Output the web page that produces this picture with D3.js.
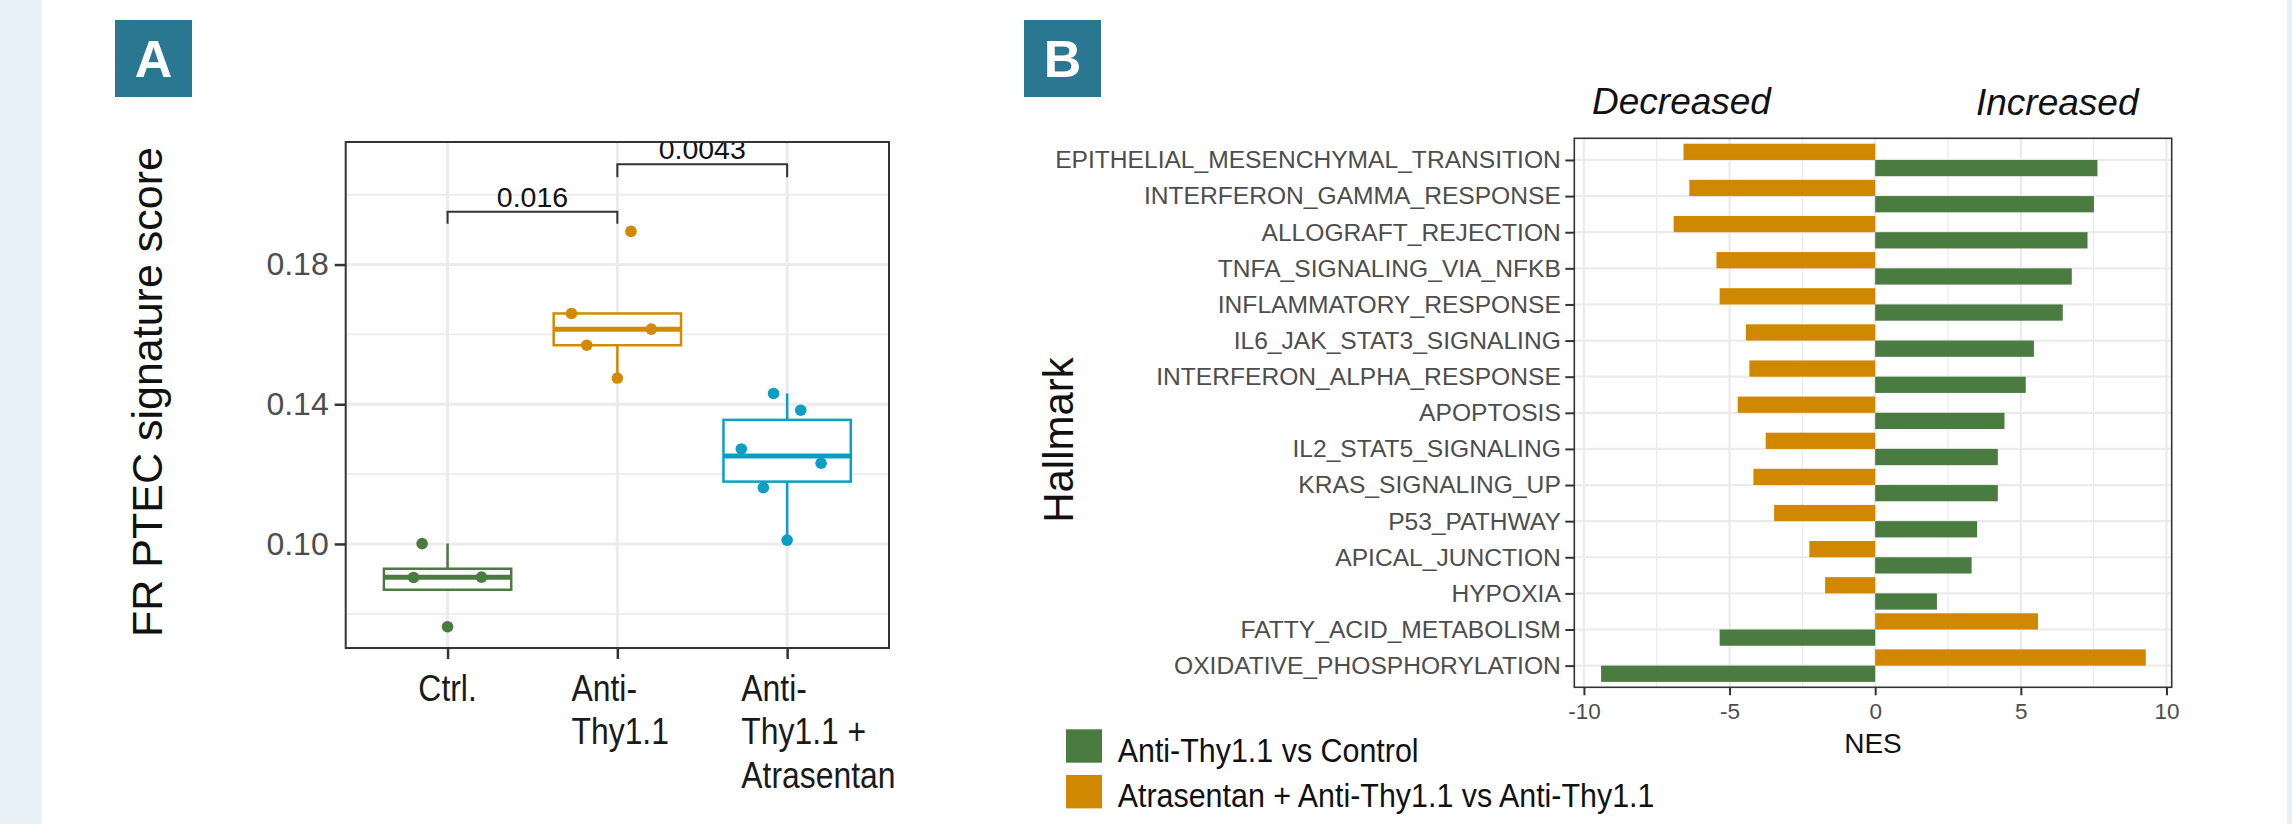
<!DOCTYPE html>
<html>
<head>
<meta charset="utf-8">
<script src="https://cdn.jsdelivr.net/npm/d3@7"></script>
<style>
html, body { margin: 0; padding: 0; background: #fff; }
svg { display: block; }
</style>
</head>
<body>
<svg id="fig" width="2292" height="824"></svg>
<script>
// ---- panel A : FR PTEC signature score per group ----
var groups = ["Ctrl.", "Anti-Thy1.1", "Anti-Thy1.1 + Atrasentan"];
var groupLabels = [["Ctrl."], ["Anti-", "Thy1.1"], ["Anti-", "Thy1.1 +", "Atrasentan"]];
var groupColors = ["#4a7c3f", "#d38a00", "#0b9fc3"];
var scoreCtrl = [0.1001, 0.0904, 0.0905, 0.0763];
var scoreAnti = [0.1660, 0.1569, 0.1615, 0.1475, 0.1895];
var scoreAtra = [0.1431, 0.1383, 0.1272, 0.1231, 0.1161, 0.1011];
// horizontal jitter of each dot, in category steps
var jitterCtrl = [-0.15, -0.20, 0.20, 0];
var jitterAnti = [-0.27, -0.18, 0.20, 0, 0.08];
var jitterAtra = [-0.08, 0.08, -0.27, 0.20, -0.14, 0];
var yTicksA = [0.10, 0.14, 0.18];
var yMinorA = [0.08, 0.12, 0.16, 0.20];
var pLabels = ["0.016", "0.0043"];
var pPairs = [[0, 1], [1, 2]];
var pHeights = [0.1951, 0.2087];
var pTips = [0.1917, 0.2050];

// ---- panel B : hallmark NES ----
var hallmarks = ["EPITHELIAL_MESENCHYMAL_TRANSITION", "INTERFERON_GAMMA_RESPONSE", "ALLOGRAFT_REJECTION",
	"TNFA_SIGNALING_VIA_NFKB", "INFLAMMATORY_RESPONSE", "IL6_JAK_STAT3_SIGNALING", "INTERFERON_ALPHA_RESPONSE",
	"APOPTOSIS", "IL2_STAT5_SIGNALING", "KRAS_SIGNALING_UP", "P53_PATHWAY", "APICAL_JUNCTION", "HYPOXIA",
	"FATTY_ACID_METABOLISM", "OXIDATIVE_PHOSPHORYLATION"];
var nesAntiThy = [7.63, 7.51, 7.29, 6.75, 6.44, 5.45, 5.17, 4.44, 4.21, 4.21, 3.50, 3.31, 2.12, -5.34, -9.41];
var nesAtrasentan = [-6.58, -6.38, -6.92, -5.45, -5.34, -4.44, -4.32, -4.72, -3.76, -4.18, -3.47, -2.26, -1.72, 5.59, 9.29];
var seriesNames = ["Anti-Thy1.1 vs Control", "Atrasentan + Anti-Thy1.1 vs Anti-Thy1.1"];
var seriesColors = ["#4a7c41", "#d08800"];
var xTicksB = [-10, -5, 0, 5, 10];
var xMinorB = [-7.5, -2.5, 2.5, 7.5];

var FONT = "'Liberation Sans', Arial, Helvetica, sans-serif";
var svg = d3.select("#fig").attr("font-family", FONT);

// page background and side strips
svg.append("rect").attr("width", 2292).attr("height", 824).attr("fill", "#fff");
svg.append("rect").attr("x", 0).attr("width", 41.5).attr("height", 824).attr("fill", "#e7eff7");
svg.append("rect").attr("x", 2287).attr("width", 5).attr("height", 824).attr("fill", "#e7eff7");

function panelTag(x, letter){
	svg.append("rect").attr("x", x).attr("y", 20).attr("width", 77).attr("height", 77).attr("fill", "#2a7791");
	svg.append("text").attr("x", x + 38.5).attr("y", 77).attr("text-anchor", "middle")
		.attr("font-size", 52).attr("font-weight", "bold").attr("fill", "#fff").text(letter);
}
panelTag(115, "A");
panelTag(1024, "B");

function squeezedText(parent, x, y, str, size, sx, anchor){
	return parent.append("text")
		.attr("transform", "translate(" + x + "," + y + ") scale(" + sx + ",1)")
		.attr("text-anchor", anchor || "start")
		.attr("font-size", size)
		.text(str);
}

// =========== panel A ===========
var A = {left: 345.7, right: 889, top: 142, bottom: 648};
var yA = d3.scaleLinear().domain([0.0702, 0.2151]).range([A.bottom, A.top]);
var xA = d3.scalePoint().domain(groups).range([A.left, A.right]).padding(0.6);
var stepA = xA.step();

svg.append("clipPath").attr("id", "clipA").append("rect")
	.attr("x", A.left).attr("y", A.top).attr("width", A.right - A.left).attr("height", A.bottom - A.top);

var gA = svg.append("g").attr("clip-path", "url(#clipA)");
gA.append("rect").attr("x", A.left).attr("y", A.top).attr("width", A.right - A.left).attr("height", A.bottom - A.top).attr("fill", "#fff");
gA.selectAll(".minor").data(yMinorA).enter().append("line")
	.attr("x1", A.left).attr("x2", A.right).attr("y1", yA).attr("y2", yA)
	.attr("stroke", "#ebebeb").attr("stroke-width", 1.8);
gA.selectAll(".major").data(yTicksA).enter().append("line")
	.attr("x1", A.left).attr("x2", A.right).attr("y1", yA).attr("y2", yA)
	.attr("stroke", "#ebebeb").attr("stroke-width", 3);
gA.selectAll(".vmajor").data(groups).enter().append("line")
	.attr("x1", xA).attr("x2", xA).attr("y1", A.top).attr("y2", A.bottom)
	.attr("stroke", "#ebebeb").attr("stroke-width", 3);

function boxStats(vals){
	var s = vals.slice().sort(d3.ascending);
	var q1 = d3.quantile(s, 0.25), med = d3.quantile(s, 0.5), q3 = d3.quantile(s, 0.75);
	var iqr = q3 - q1;
	var lo = d3.min(s.filter(function(v){ return v >= q1 - 1.5 * iqr; }));
	var hi = d3.max(s.filter(function(v){ return v <= q3 + 1.5 * iqr; }));
	return {q1: q1, med: med, q3: q3, lo: lo, hi: hi};
}

var allScores = [scoreCtrl, scoreAnti, scoreAtra];
var allJitter = [jitterCtrl, jitterAnti, jitterAtra];

allScores.forEach(function(vals, i){
	var st = boxStats(vals), cx = xA(groups[i]), col = groupColors[i], hw = 0.375 * stepA;
	if (st.hi > st.q3) gA.append("line").attr("x1", cx).attr("x2", cx).attr("y1", yA(st.q3)).attr("y2", yA(st.hi)).attr("stroke", col).attr("stroke-width", 2.5);
	if (st.lo < st.q1) gA.append("line").attr("x1", cx).attr("x2", cx).attr("y1", yA(st.q1)).attr("y2", yA(st.lo)).attr("stroke", col).attr("stroke-width", 2.5);
	gA.append("rect").attr("x", cx - hw).attr("width", 2 * hw)
		.attr("y", yA(st.q3)).attr("height", yA(st.q1) - yA(st.q3))
		.attr("fill", "#fff").attr("stroke", col).attr("stroke-width", 2.5);
	gA.append("line").attr("x1", cx - hw).attr("x2", cx + hw).attr("y1", yA(st.med)).attr("y2", yA(st.med))
		.attr("stroke", col).attr("stroke-width", 5);
	gA.selectAll(null).data(vals).enter().append("circle")
		.attr("cx", function(d, j){ return cx + allJitter[i][j] * stepA; })
		.attr("cy", function(d){ return yA(d); })
		.attr("r", 5.8).attr("fill", col);
});

// significance brackets
pLabels.forEach(function(lab, i){
	var x1 = xA(groups[pPairs[i][0]]), x2 = xA(groups[pPairs[i][1]]);
	var yb = yA(pHeights[i]), yt = yA(pTips[i]);
	gA.append("path").attr("d", "M" + x1 + "," + yt + "V" + yb + "H" + x2 + "V" + yt)
		.attr("fill", "none").attr("stroke", "#333").attr("stroke-width", 2);
	gA.append("text").attr("x", (x1 + x2) / 2).attr("y", yb - 5).attr("text-anchor", "middle")
		.attr("font-size", 28.5).attr("fill", "#111").text(lab);
});

svg.append("rect").attr("x", A.left).attr("y", A.top).attr("width", A.right - A.left).attr("height", A.bottom - A.top)
	.attr("fill", "none").attr("stroke", "#333").attr("stroke-width", 2);

var axA = svg.append("g").attr("transform", "translate(" + A.left + ",0)")
	.call(d3.axisLeft(yA).tickValues(yTicksA).tickFormat(d3.format(".2f")).tickSize(11).tickPadding(6));
axA.attr("font-family", FONT).attr("font-size", 32);
axA.select(".domain").remove();
axA.selectAll("line").attr("stroke", "#333").attr("stroke-width", 2.5);
axA.selectAll("text").attr("fill", "#4d4d4d");

var axAx = svg.append("g").attr("transform", "translate(0," + A.bottom + ")")
	.call(d3.axisBottom(xA).tickSize(11).tickFormat(""));
axAx.select(".domain").remove();
axAx.selectAll("line").attr("stroke", "#333").attr("stroke-width", 2.5);

groupLabels.forEach(function(lines, i){
	var multi = lines.length > 1;
	var x0 = xA(groups[i]) + (multi ? -0.27 * stepA : 0);
	lines.forEach(function(t, k){
		squeezedText(svg, x0, 701 + k * 43.3, t, 37.5, 0.85, multi ? "start" : "middle").attr("fill", "#1a1a1a");
	});
});

svg.append("text").attr("transform", "translate(161.5,392) rotate(-90)").attr("text-anchor", "middle")
	.attr("font-size", 43).attr("fill", "#111").text("FR PTEC signature score");

// =========== panel B ===========
var B = {left: 1574.3, right: 2171.7, top: 138.3, bottom: 687.3};
var xB = d3.scaleLinear().domain([-10.33, 10.18]).range([B.left, B.right]);
var yB = d3.scalePoint().domain(hallmarks).range([B.top, B.bottom]).padding(0.6);
var barH = 0.45 * yB.step();

var gB = svg.append("g");
gB.selectAll(".vminor").data(xMinorB).enter().append("line")
	.attr("x1", xB).attr("x2", xB).attr("y1", B.top).attr("y2", B.bottom)
	.attr("stroke", "#ebebeb").attr("stroke-width", 1.3);
gB.selectAll(".vmajor").data(xTicksB).enter().append("line")
	.attr("x1", xB).attr("x2", xB).attr("y1", B.top).attr("y2", B.bottom)
	.attr("stroke", "#ebebeb").attr("stroke-width", 2.2);
gB.selectAll(".hmajor").data(hallmarks).enter().append("line")
	.attr("x1", B.left).attr("x2", B.right).attr("y1", yB).attr("y2", yB)
	.attr("stroke", "#ebebeb").attr("stroke-width", 2.2);

// orange (Atrasentan) sits above the category line, green (Anti-Thy1.1) below
gB.selectAll(".barO").data(nesAtrasentan).enter().append("rect")
	.attr("x", function(d){ return xB(Math.min(0, d)); })
	.attr("width", function(d){ return Math.abs(xB(d) - xB(0)); })
	.attr("y", function(d, i){ return yB(hallmarks[i]) - barH; })
	.attr("height", barH).attr("fill", seriesColors[1]);
gB.selectAll(".barG").data(nesAntiThy).enter().append("rect")
	.attr("x", function(d){ return xB(Math.min(0, d)); })
	.attr("width", function(d){ return Math.abs(xB(d) - xB(0)); })
	.attr("y", function(d, i){ return yB(hallmarks[i]); })
	.attr("height", barH).attr("fill", seriesColors[0]);

svg.append("rect").attr("x", B.left).attr("y", B.top).attr("width", B.right - B.left).attr("height", B.bottom - B.top)
	.attr("fill", "none").attr("stroke", "#333").attr("stroke-width", 1.6);

var axBy = svg.append("g").attr("transform", "translate(" + B.left + ",0)")
	.call(d3.axisLeft(yB).tickSize(9).tickPadding(4.5));
axBy.attr("font-family", FONT).attr("font-size", 24.6);
axBy.select(".domain").remove();
axBy.selectAll("line").attr("stroke", "#333").attr("stroke-width", 2);
axBy.selectAll("text").attr("fill", "#4d4d4d");

var axBx = svg.append("g").attr("transform", "translate(0," + B.bottom + ")")
	.call(d3.axisBottom(xB).tickValues(xTicksB).tickSize(8).tickPadding(8)
		.tickFormat(function(d){ return String(d); }));
axBx.attr("font-family", FONT).attr("font-size", 22.5);
axBx.select(".domain").remove();
axBx.selectAll("line").attr("stroke", "#333").attr("stroke-width", 2);
axBx.selectAll("text").attr("fill", "#4d4d4d");

svg.append("text").attr("x", (B.left + B.right) / 2).attr("y", 753).attr("text-anchor", "middle")
	.attr("font-size", 28).attr("fill", "#111").text("NES");

svg.append("text").attr("transform", "translate(1073,440) rotate(-90)").attr("text-anchor", "middle")
	.attr("font-size", 42).attr("fill", "#111").text("Hallmark");

svg.append("text").attr("x", xB(-6.65)).attr("y", 113.5).attr("text-anchor", "middle")
	.attr("font-size", 37).attr("font-style", "italic").attr("fill", "#111").text("Decreased");
svg.append("text").attr("x", xB(6.25)).attr("y", 115).attr("text-anchor", "middle")
	.attr("font-size", 37).attr("font-style", "italic").attr("fill", "#111").text("Increased");

// legend
var leg = svg.append("g");
seriesNames.forEach(function(name, i){
	leg.append("rect").attr("x", 1066).attr("y", 729.3 + i * 45.7).attr("width", 36).attr("height", 33.4).attr("fill", seriesColors[i]);
	squeezedText(leg, 1117.7, 761.7 + i * 45.7, name, 34, 0.895).attr("fill", "#111");
});
</script>
</body>
</html>
